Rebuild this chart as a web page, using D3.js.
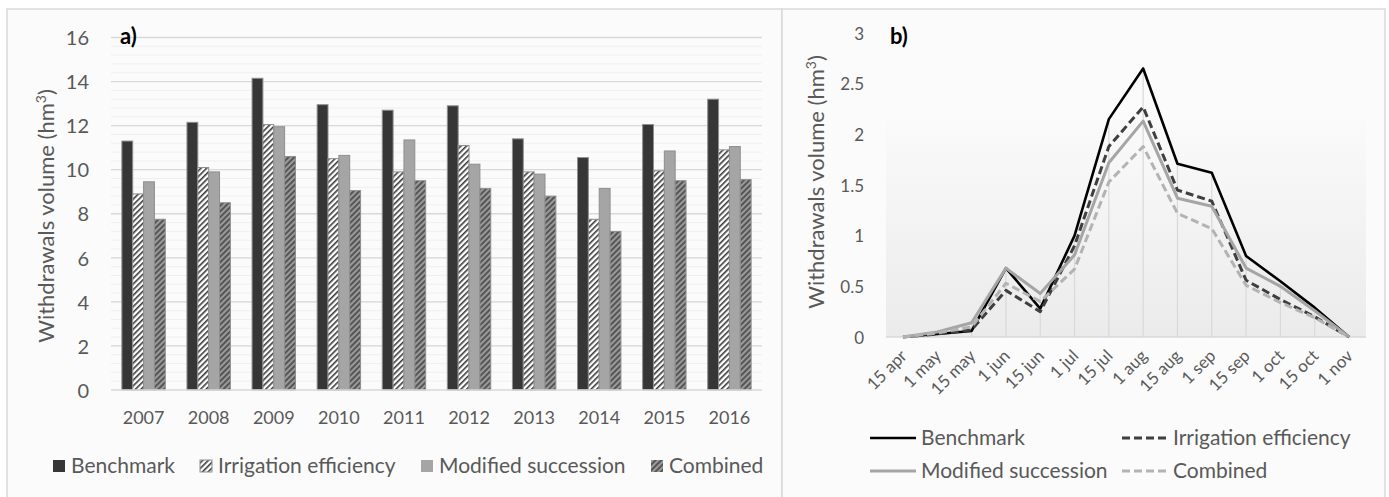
<!DOCTYPE html>
<html>
<head>
<meta charset="utf-8">
<script src="https://cdn.jsdelivr.net/npm/d3@7"></script>
<style>
  html, body { margin: 0; padding: 0; background: #ffffff; }
  svg { display: block; }
  text { font-family: Lato, "Open Sans", sans-serif; fill: #595959; }
</style>
</head>
<body>
<svg id="fig" width="1389" height="497"></svg>
<script>
// ---- annual withdrawals (hm3), panel a ----
const years = ["2007", "2008", "2009", "2010", "2011", "2012", "2013", "2014", "2015", "2016"];
const scenarios = ["Benchmark", "Irrigation efficiency", "Modified succession", "Combined"];
const benchmarkAnnual  = [11.3, 12.15, 14.15, 12.95, 12.7, 12.9, 11.4, 10.55, 12.05, 13.2];
const irrigationAnnual = [8.9, 10.1, 12.05, 10.5, 9.9, 11.1, 9.9, 7.75, 9.95, 10.9];
const modifiedAnnual   = [9.45, 9.9, 11.95, 10.65, 11.35, 10.25, 9.8, 9.15, 10.85, 11.05];
const combinedAnnual   = [7.75, 8.5, 10.6, 9.05, 9.5, 9.15, 8.8, 7.2, 9.5, 9.55];
const annualTicks = [0, 2, 4, 6, 8, 10, 12, 14, 16];

// ---- fortnightly withdrawals over the season (hm3), panel b ----
const dates = ["15 apr", "1 may", "15 may", "1 jun", "15 jun", "1 jul", "15 jul",
               "1 aug", "15 aug", "1 sep", "15 sep", "1 oct", "15 oct", "1 nov"];
const benchmarkSeason  = [0, 0.03, 0.06, 0.68, 0.28, 1.0, 2.15, 2.65, 1.71, 1.62, 0.8, 0.55, 0.29, 0];
const irrigationSeason = [0, 0.03, 0.07, 0.46, 0.25, 0.9, 1.88, 2.27, 1.45, 1.34, 0.56, 0.37, 0.2, 0];
const modifiedSeason   = [0, 0.05, 0.14, 0.68, 0.43, 0.81, 1.72, 2.13, 1.37, 1.29, 0.68, 0.5, 0.26, 0];
const combinedSeason   = [0, 0.04, 0.1, 0.53, 0.35, 0.67, 1.53, 1.88, 1.22, 1.07, 0.51, 0.34, 0.19, 0];
const seasonTicks = [0, 0.5, 1, 1.5, 2, 2.5, 3];

const annualSeries = [benchmarkAnnual, irrigationAnnual, modifiedAnnual, combinedAnnual];
const seasonSeries = [benchmarkSeason, irrigationSeason, modifiedSeason, combinedSeason];

const svg = d3.select("#fig");
const defs = svg.append("defs");

// hatch fills
const hatchLight = defs.append("pattern")
  .attr("id", "hatchLight").attr("patternUnits", "userSpaceOnUse")
  .attr("width", 4).attr("height", 4).attr("patternTransform", "rotate(45)");
hatchLight.append("rect").attr("width", 4).attr("height", 4).attr("fill", "#ffffff");
hatchLight.append("rect").attr("width", 1.6).attr("height", 4).attr("fill", "#3a3a3a");

const hatchDark = defs.append("pattern")
  .attr("id", "hatchDark").attr("patternUnits", "userSpaceOnUse")
  .attr("width", 4).attr("height", 4).attr("patternTransform", "rotate(45)");
hatchDark.append("rect").attr("width", 4).attr("height", 4).attr("fill", "#9a9a9a");
hatchDark.append("rect").attr("width", 2).attr("height", 4).attr("fill", "#555555");

const grad = defs.append("linearGradient").attr("id", "plotFade")
  .attr("x1", 0).attr("y1", 0).attr("x2", 0).attr("y2", 1);
grad.append("stop").attr("offset", "0%").attr("stop-color", "#fafafa");
grad.append("stop").attr("offset", "100%").attr("stop-color", "#ebebeb");

const barFills = ["#363636", "url(#hatchLight)", "#a5a5a5", "url(#hatchDark)"];

// panel frames
svg.append("rect").attr("x", 7).attr("y", 9).attr("width", 775).attr("height", 495)
  .attr("fill", "#fbfbfb").attr("stroke", "#d9d9d9").attr("stroke-width", 1.5);
svg.append("rect").attr("x", 782).attr("y", 9).attr("width", 603).attr("height", 495)
  .attr("fill", "#fbfbfb").attr("stroke", "#d9d9d9").attr("stroke-width", 1.5);

// ================= panel a =================
const ya = d3.scaleLinear().domain([0, 16]).range([390, 37.5]);
const xa = d3.scaleBand().domain(years).range([111, 762]).paddingInner(0.333).paddingOuter(0.167);
const xs = d3.scaleBand().domain(scenarios).range([0, xa.bandwidth()]);

const ga = svg.append("g");
// minor then major gridlines
ga.selectAll("line.minor").data(d3.range(0.4, 16, 0.4)).join("line")
  .attr("x1", 111).attr("x2", 762)
  .attr("y1", d => ya(d)).attr("y2", d => ya(d))
  .attr("stroke", "#efefef").attr("stroke-width", 1);
ga.selectAll("line.major").data(annualTicks.slice(1)).join("line")
  .attr("x1", 111).attr("x2", 762)
  .attr("y1", d => ya(d)).attr("y2", d => ya(d))
  .attr("stroke", "#d9d9d9").attr("stroke-width", 1.3);

// bars
years.forEach((yr, i) => {
  const g = ga.append("g").attr("transform", `translate(${xa(yr)},0)`);
  scenarios.forEach((s, k) => {
    const v = annualSeries[k][i];
    g.append("rect")
      .attr("x", xs(s)).attr("width", xs.bandwidth())
      .attr("y", ya(v)).attr("height", ya(0) - ya(v))
      .attr("fill", barFills[k]).attr("stroke", "#8f8f8f").attr("stroke-width", 1);
  });
});

// category axis line
ga.append("line").attr("x1", 111).attr("x2", 762).attr("y1", ya(0)).attr("y2", ya(0))
  .attr("stroke", "#d9d9d9").attr("stroke-width", 1.3);

// axes
const axA = d3.axisLeft(ya).tickValues(annualTicks).tickSize(0).tickPadding(0);
const gyA = svg.append("g").attr("transform", "translate(89,0)").call(axA);
gyA.select(".domain").remove();
gyA.selectAll("text").attr("font-size", 20).attr("font-family", "Lato").attr("fill", "#595959")
  .attr("dy", "0.36em");

const axXA = d3.axisBottom(xa).tickSize(0).tickPadding(0);
const gxA = svg.append("g").attr("transform", "translate(0,411)").call(axXA);
gxA.select(".domain").remove();
gxA.selectAll("text").attr("font-size", 18).attr("font-family", "Lato").attr("fill", "#595959");

// axis title
const titleA = svg.append("text")
  .attr("transform", "translate(54,216) rotate(-90)")
  .attr("text-anchor", "middle").attr("font-size", 22);
titleA.append("tspan").text("Withdrawals volume (hm");
titleA.append("tspan").attr("font-size", 14).attr("dy", -8).text("3");
titleA.append("tspan").attr("dy", 8).text(")");

svg.append("text").attr("x", 120).attr("y", 44).attr("font-size", 22)
  .attr("font-weight", "bold").style("fill", "#000").text("a)");

// legend a
const legA = [53, 200, 421, 651];
scenarios.forEach((s, k) => {
  svg.append("rect").attr("x", legA[k]).attr("y", 460).attr("width", 12).attr("height", 12)
    .attr("fill", barFills[k]).attr("stroke", k === 1 ? "#8f8f8f" : "none");
  svg.append("text").attr("x", legA[k] + 18).attr("y", 473).attr("font-size", 21).text(s);
});

// ================= panel b =================
const yb = d3.scaleLinear().domain([0, 3]).range([337, 33]);
const xb = d3.scalePoint().domain(dates).range([903, 1349]);

svg.append("rect").attr("x", 886).attr("y", 120).attr("width", 480).attr("height", 217)
  .attr("fill", "url(#plotFade)");

// drop lines from the highest series to the axis
const gb = svg.append("g");
dates.forEach((d, i) => {
  const top = d3.max(seasonSeries, s => s[i]);
  if (top > 0) {
    gb.append("line").attr("x1", xb(d)).attr("x2", xb(d))
      .attr("y1", yb(top)).attr("y2", yb(0))
      .attr("stroke", "#d9d9d9").attr("stroke-width", 1.2);
  }
});
gb.append("line").attr("x1", 886).attr("x2", 1366).attr("y1", yb(0)).attr("y2", yb(0))
  .attr("stroke", "#d9d9d9").attr("stroke-width", 1.3);

const lineStyles = [
  { color: "#000000", width: 2.6, dash: null },
  { color: "#3f3f3f", width: 3, dash: "8,4" },
  { color: "#a5a5a5", width: 3, dash: null },
  { color: "#b3b3b3", width: 3, dash: "8,4" }
];
const lineGen = d3.line().x((v, i) => xb(dates[i])).y(v => yb(v));
seasonSeries.forEach((s, k) => {
  gb.append("path").datum(s).attr("d", lineGen).attr("fill", "none")
    .attr("stroke", lineStyles[k].color).attr("stroke-width", lineStyles[k].width)
    .attr("stroke-dasharray", lineStyles[k].dash).attr("stroke-linejoin", "round");
});

const axB = d3.axisLeft(yb).tickValues(seasonTicks).tickSize(0).tickPadding(0)
  .tickFormat(d3.format("~g"));
const gyB = svg.append("g").attr("transform", "translate(864,0)").call(axB);
gyB.select(".domain").remove();
gyB.selectAll("text").attr("font-size", 17).attr("font-family", "Lato").attr("fill", "#595959")
  .attr("dy", "0.36em");

svg.append("g").selectAll("text").data(dates).join("text")
  .attr("transform", d => `translate(${xb(d) + 5},357) rotate(-45)`)
  .attr("text-anchor", "end").attr("font-size", 17).text(d => d);

const titleB = svg.append("text")
  .attr("transform", "translate(824,182) rotate(-90)")
  .attr("text-anchor", "middle").attr("font-size", 22);
titleB.append("tspan").text("Withdrawals volume (hm");
titleB.append("tspan").attr("font-size", 14).attr("dy", -8).text("3");
titleB.append("tspan").attr("dy", 8).text(")");

svg.append("text").attr("x", 890).attr("y", 44).attr("font-size", 22)
  .attr("font-weight", "bold").style("fill", "#000").text("b)");

// legend b
const legB = [[870, 438], [1122, 438], [870, 471], [1122, 471]];
scenarios.forEach((s, k) => {
  const [lx, ly] = legB[k];
  svg.append("line").attr("x1", lx).attr("x2", lx + 46).attr("y1", ly).attr("y2", ly)
    .attr("stroke", lineStyles[k].color).attr("stroke-width", lineStyles[k].width)
    .attr("stroke-dasharray", lineStyles[k].dash);
  svg.append("text").attr("x", lx + 51).attr("y", ly + 7).attr("font-size", 21).text(s);
});
</script>
</body>
</html>
